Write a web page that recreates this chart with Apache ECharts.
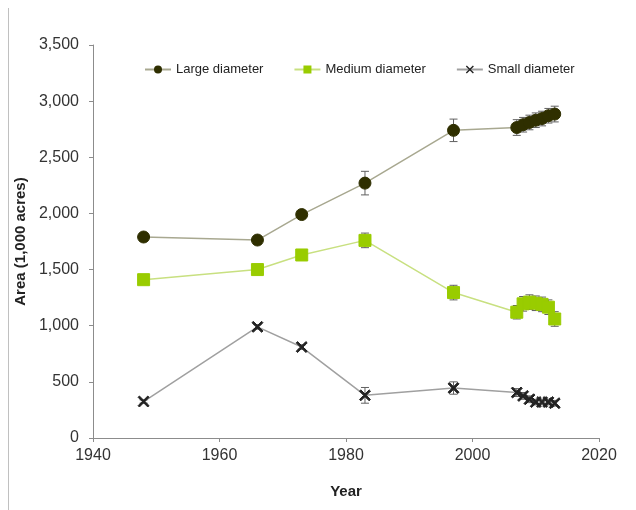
<!DOCTYPE html>
<html>
<head>
<meta charset="utf-8">
<script src="https://cdn.jsdelivr.net/npm/echarts@6/dist/echarts.min.js"></script>
<style>html,body{margin:0;padding:0;background:#fff;}#c{width:636px;height:510px;}</style>
</head>
<body>
<div id="c"></div>
<script>
var years = [1948, 1966, 1973, 1983, 1997, 2007, 2008, 2009, 2010, 2011, 2012, 2013];
var largeVals = [1790, 1763, 1990, 2270, 2740, 2765, 2790, 2810, 2830, 2845, 2870, 2885];
var largeErr = [30, 30, 30, 105, 100, 70, 65, 65, 65, 65, 65, 70];
var mediumVals = [1410, 1500, 1630, 1760, 1295, 1120, 1195, 1210, 1200, 1190, 1165, 1060];
var mediumErr = [20, 20, 25, 65, 65, 60, 65, 65, 65, 65, 65, 65];
var smallVals = [325, 990, 810, 380, 445, 405, 375, 345, 320, 320, 320, 310];
var smallErr = [15, 20, 20, 70, 55, 35, 30, 30, 25, 25, 25, 25];
var yTicks = [0, 500, 1000, 1500, 2000, 2500, 3000, 3500];
var xTicks = [1940, 1960, 1980, 2000, 2020];

function pairs(vals) { return years.map(function (y, i) { return [y, vals[i]]; }); }
function errData(vals, err) { return years.map(function (y, i) { return [y, vals[i] - err[i], vals[i] + err[i]]; }); }

function errSeries(vals, err) {
  return {
    type: 'custom',
    data: errData(vals, err),
    z: 1,
    silent: true,
    renderItem: function (params, api) {
      var x = api.value(0);
      var lo = api.coord([x, api.value(1)]);
      var hi = api.coord([x, api.value(2)]);
      var w = 4;
      var st = { stroke: '#606060', lineWidth: 1 };
      return {
        type: 'group',
        children: [
          { type: 'line', shape: { x1: lo[0], y1: lo[1], x2: hi[0], y2: hi[1] }, style: st },
          { type: 'line', shape: { x1: lo[0] - w, y1: lo[1], x2: lo[0] + w, y2: lo[1] }, style: st },
          { type: 'line', shape: { x1: hi[0] - w, y1: hi[1], x2: hi[0] + w, y2: hi[1] }, style: st }
        ]
      };
    },
    tooltip: { show: false }
  };
}

var xSym = 'path://M0,1.2L1.2,0L5,3.8L8.8,0L10,1.2L6.2,5L10,8.8L8.8,10L5,6.2L1.2,10L0,8.8L3.8,5Z';

var chart = echarts.init(document.getElementById('c'));
chart.setOption({
  animation: false,
  textStyle: { fontFamily: 'Liberation Sans, Arial, sans-serif' },
  graphic: [{ type: 'line', shape: { x1: 8.5, y1: 8, x2: 8.5, y2: 510 }, style: { stroke: '#c0c0c0', lineWidth: 1 } }],
  legend: {
    top: 58,
    left: 139,
    itemGap: 30,
    itemWidth: 26,
    itemHeight: 10,
    textStyle: { fontSize: 13, color: '#222', fontFamily: 'Liberation Sans, Arial, sans-serif' },
    data: ['Large diameter', 'Medium diameter', 'Small diameter']
  },
  grid: { left: 93, right: 37, top: 45, bottom: 72, containLabel: false },
  xAxis: {
    type: 'value', min: xTicks[0], max: xTicks[xTicks.length - 1], interval: 20,
    name: 'Year', nameLocation: 'middle', nameGap: 46,
    nameTextStyle: { fontWeight: 'bold', fontSize: 15, color: '#222' },
    axisLine: { lineStyle: { color: '#8c8c8c' } },
    axisTick: { show: true, length: 4, lineStyle: { color: '#8c8c8c' } },
    axisLabel: { fontSize: 16, color: '#333', margin: 10, formatter: function (v) { return String(v); } },
    splitLine: { show: false }
  },
  yAxis: {
    type: 'value', min: yTicks[0], max: yTicks[yTicks.length - 1], interval: 500,
    name: 'Area (1,000 acres)', nameLocation: 'middle', nameGap: 63,
    nameTextStyle: { fontWeight: 'bold', fontSize: 15, color: '#222' },
    axisLine: { show: true, lineStyle: { color: '#8c8c8c' } },
    axisTick: { show: true, length: 4, lineStyle: { color: '#8c8c8c' } },
    axisLabel: { fontSize: 16, color: '#333', margin: 14,
      formatter: function (v) { return v.toLocaleString('en-US'); } },
    splitLine: { show: false }
  },
  series: [
    errSeries(largeVals, largeErr),
    errSeries(mediumVals, mediumErr),
    errSeries(smallVals, smallErr),
    {
      name: 'Large diameter', type: 'line', data: pairs(largeVals), z: 3,
      symbol: 'circle', symbolSize: 12,
      lineStyle: { color: '#a8a890', width: 1.5 },
      itemStyle: { color: '#2f2f00', borderColor: '#2f2f00' }
    },
    {
      name: 'Medium diameter', type: 'line', data: pairs(mediumVals), z: 3,
      symbol: 'rect', symbolSize: 12,
      lineStyle: { color: '#c8e080', width: 1.5 },
      itemStyle: { color: '#99cc00', borderColor: '#99cc00' }
    },
    {
      name: 'Small diameter', type: 'line', data: pairs(smallVals), z: 3,
      symbol: xSym, symbolSize: 11,
      lineStyle: { color: '#a0a0a0', width: 1.5 },
      itemStyle: { color: '#222', borderColor: '#222' }
    }
  ]
});
</script>
</body>
</html>
